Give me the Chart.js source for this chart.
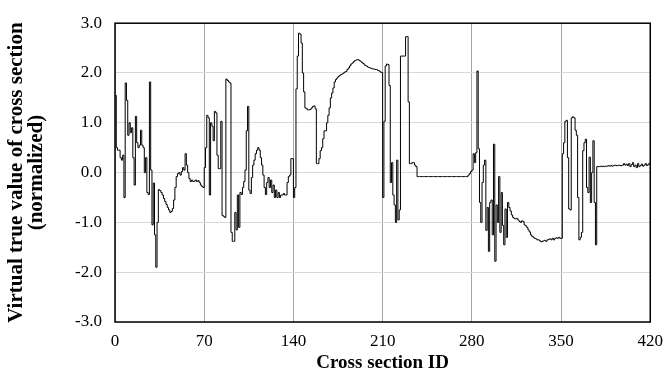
<!DOCTYPE html>
<html>
<head>
    <meta charset="UTF-8">
    <title>Virtual true value of cross section</title>
    <script src="https://cdn.jsdelivr.net/npm/chart.js@4.4.1/dist/chart.umd.min.js"></script>
    <style>
        body { margin: 0; background: #fff; }
        #wrap { width: 672px; height: 379px; }
    </style>
</head>
<body>
    <div id="wrap"><canvas id="chart"></canvas></div>

    <script>
        // tick positions on both axes
        var xTicks = [0, 70, 140, 210, 280, 350, 420];
        var yTicks = [-3, -2, -1, 0, 1, 2, 3];

        // normalized virtual true value, one per cross section (ID 0..420)
        var trueValue = [
            1.55, 0.5, 0.45, 0.45, 0.3, 0.25, 0.35, -0.5, 1.8, 1.45,
            0.75, 1.0, 0.8, 0.9, 0.3, -0.25, 1.13, 0.6, 0.5, 0.55,
            0.85, 0.55, 0.5, 0.0, 0.3, -0.4, -0.44, 1.82, 0.05, -1.05,
            -0.21, -1.25, -1.9, -1.0, -0.34, -0.36, -0.4, -0.45, -0.52, -0.58,
            -0.64, -0.7, -0.75, -0.8, -0.78, -0.72, -0.55, -0.3, -0.08, -0.02,
            0.0, -0.05, 0.02, 0.1, 0.05, 0.38, 0.15, 0.0, -0.12, -0.18,
            -0.15, -0.18, -0.17, -0.15, -0.18, -0.16, -0.2, -0.25, -0.28, -0.3,
            0.1, 0.5, 1.15, 1.1, -0.45, 1.0, 0.93, 0.64, 1.23, 1.2,
            0.35, 0.08, 0.08, 1.03, -0.86, -0.88, -0.9, 1.88, 1.85, 1.82,
            1.8, -1.2, -1.38, -1.38, -0.8, -1.15, -0.45, -1.1, -0.4, -0.44,
            -0.3, -0.18, 0.05, 0.84, 1.33, -0.35, -0.42, -0.1, 0.15, 0.25,
            0.38, 0.45, 0.5, 0.45, 0.3, 0.15, -0.05, -0.3, -0.44, -0.2,
            -0.1, -0.3, -0.15, -0.4, -0.25, -0.5, -0.35, -0.5, -0.4, -0.5,
            -0.45, -0.45, -0.42, -0.45, -0.45, -0.2, -0.08, -0.05, 0.28, 0.28,
            -0.5, -0.3, 1.68, 2.34, 2.8, 2.78, 2.6, 2.0, 1.62, 1.3,
            1.28, 1.26, 1.26, 1.27, 1.3, 1.33, 1.34, 1.28, 0.18, 0.18,
            0.28, 0.44, 0.5, 0.68, 0.84, 0.84, 1.0, 1.15, 1.3, 1.5,
            1.6, 1.7, 1.82, 1.87, 1.9, 1.93, 1.95, 1.97, 1.98, 2.0,
            2.02, 2.03, 2.07, 2.1, 2.14, 2.18, 2.2, 2.23, 2.25, 2.26,
            2.27, 2.26, 2.24, 2.22, 2.2, 2.18, 2.15, 2.14, 2.12, 2.11,
            2.1, 2.09, 2.08, 2.08, 2.07, 2.07, 2.05, 2.04, 2.02, 2.01,
            -0.5, 1.03, 2.14, 2.18, 2.17, 1.75, -0.2, 0.2, -0.45, -0.65,
            -1.0, 0.25, -0.95, -0.75, 2.34, 2.34, 2.34, 2.34, 2.73, 2.73,
            1.42, 0.18, 0.18, 0.2, 0.2, 0.15, 0.12, -0.08, -0.08, -0.08,
            -0.08, -0.08, -0.08, -0.08, -0.08, -0.08, -0.08, -0.08, -0.08, -0.08,
            -0.08, -0.08, -0.08, -0.08, -0.08, -0.08, -0.08, -0.08, -0.08, -0.08,
            -0.08, -0.08, -0.08, -0.08, -0.08, -0.08, -0.08, -0.08, -0.08, -0.08,
            -0.08, -0.08, -0.08, -0.08, -0.08, -0.08, -0.08, -0.05, -0.02, 0.02,
            0.05, 0.38, 0.2, 0.4, 2.04, 0.48, -0.6, -1.0, -0.2, 0.15,
            0.25, -1.16, -0.7, -1.58, -0.6, -0.55, -1.25, 0.57, -1.78, -0.65,
            -1.0, -0.08, -1.2, -0.4, -1.06, -1.45, -0.73, -1.3, -0.6, -0.7,
            -0.77, -0.85, -0.9, -0.92, -0.93, -0.92, -0.95, -0.98, -1.0, -0.97,
            -0.98, -1.05, -1.07, -1.1, -1.15, -1.19, -1.25, -1.28, -1.3, -1.32,
            -1.33, -1.35, -1.35, -1.37, -1.39, -1.38, -1.37, -1.36, -1.38, -1.35,
            -1.34, -1.33, -1.35, -1.32, -1.35, -1.32, -1.31, -1.32, -1.3, -1.32,
            -1.32, 0.38, 0.6, 1.03, 1.05, 0.3, -0.73, -0.75, 1.1, 1.12,
            1.1, 0.85, 0.75, -0.5, -1.35, -1.3, -1.2, 0.44, 0.6, 0.67,
            -0.3, -0.4, 0.31, -0.6, 0.0, 0.64, -0.6, -1.45, 0.12, 0.12,
            0.12, 0.13, 0.12, 0.13, 0.12, 0.13, 0.13, 0.14, 0.13, 0.14,
            0.13, 0.14, 0.15, 0.14, 0.14, 0.15, 0.14, 0.14, 0.15, 0.18,
            0.15, 0.17, 0.14, 0.18, 0.12, 0.16, 0.2, 0.12, 0.15, 0.1,
            0.18, 0.12, 0.14, 0.17, 0.13, 0.15, 0.18, 0.14, 0.16, 0.19,
            0.15
        ];

        var points = trueValue.map(function(v, i) { return { x: i, y: v }; });

        // black frame round the plot area
        var frame = {
            id: 'frame',
            afterDraw: function(chart) {
                var a = chart.chartArea, ctx = chart.ctx;
                ctx.save();
                ctx.strokeStyle = '#000';
                ctx.lineWidth = 1.5;
                ctx.strokeRect(a.left, a.top, a.right - a.left, a.bottom - a.top);
                ctx.restore();
            }
        };

        var serif = 'Liberation Serif, Times New Roman, serif';

        new Chart(document.getElementById('chart'), {
            type: 'line',
            data: {
                datasets: [{
                    data: points,
                    borderColor: '#000',
                    borderWidth: 1,
                    pointRadius: 0,
                    stepped: true,
                    fill: false
                }]
            },
            options: {
                responsive: true,
                maintainAspectRatio: false,
                animation: false,
                layout: { padding: { left: 0, top: 16, right: 15, bottom: 0 } },
                plugins: { legend: { display: false }, tooltip: { enabled: false } },
                scales: {
                    x: {
                        type: 'linear',
                        min: 0,
                        max: 420,
                        afterBuildTicks: function(s) { s.ticks = xTicks.map(function(v) { return { value: v }; }); },
                        afterFit: function(s) { s.height = 57; },
                        grid: { color: '#a6a6a6', drawTicks: false },
                        border: { display: false },
                        ticks: { color: '#000', padding: 9, maxRotation: 0, font: { family: serif, size: 17 } },
                        title: {
                            display: true,
                            text: 'Cross section ID',
                            color: '#000',
                            padding: { top: 0, bottom: 5 },
                            font: { family: serif, size: 19, weight: 'bold' }
                        }
                    },
                    y: {
                        min: -3,
                        max: 3,
                        afterBuildTicks: function(s) { s.ticks = yTicks.map(function(v) { return { value: v }; }); },
                        afterFit: function(s) { s.width = 115; },
                        grid: { color: '#d9d9d9', drawTicks: false },
                        border: { display: false },
                        ticks: {
                            color: '#000',
                            padding: 13,
                            font: { family: serif, size: 17 },
                            callback: function(v) { return v.toFixed(1); }
                        },
                        title: {
                            display: true,
                            text: ['Virtual true value of cross section', '(normalized)'],
                            color: '#000',
                            padding: { top: 6, bottom: 0 },
                            font: { family: serif, size: 21, weight: 'bold', lineHeight: 0.98 }
                        }
                    }
                }
            },
            plugins: [frame]
        });
    </script>
</body>
</html>
